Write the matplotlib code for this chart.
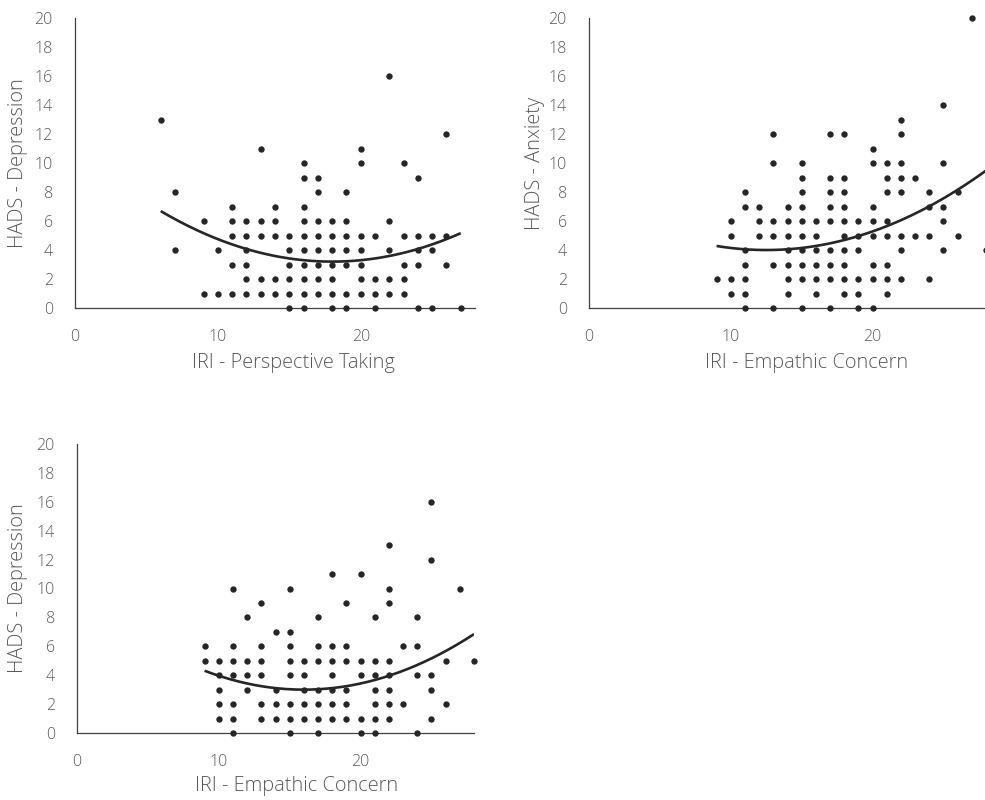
import numpy as np
import matplotlib
matplotlib.use("Agg")
import matplotlib.pyplot as plt

plt.rcParams['font.family'] = ['Open Sans', 'DejaVu Sans']

# IRI Perspective Taking vs HADS Depression: scores grouped by y level
pt_dep_levels = [16, 13, 12, 11, 10, 9, 8, 7, 6, 5, 4, 3, 2, 1, 0]
pt_dep_x = [
    [22],
    [6],
    [26],
    [13, 20],
    [16, 20, 23],
    [16, 17, 24],
    [7, 17, 19],
    [11, 14, 16],
    [9, 11, 12, 13, 14, 16, 17, 18, 19, 22],
    [11, 12, 13, 14, 15, 16, 17, 18, 19, 20, 21, 23, 24, 25, 26],
    [7, 10, 12, 15, 16, 17, 18, 19, 20, 22, 24, 25],
    [11, 12, 15, 16, 17, 18, 19, 20, 23, 24, 26],
    [12, 13, 14, 15, 16, 17, 18, 20, 21, 22, 23],
    [9, 10, 11, 12, 13, 14, 15, 16, 17, 18, 19, 20, 21, 22, 23],
    [15, 16, 18, 19, 21, 24, 25, 27],
]
# quadratic trend (a, b, c) for y = a*x^2 + b*x + c
pt_dep_trend = [0.0242, -0.8712, 11.04]

# IRI Empathic Concern vs HADS Anxiety
ec_anx_levels = [20, 14, 13, 12, 11, 10, 9, 8, 7, 6, 5, 4, 3, 2, 1, 0]
ec_anx_x = [
    [27],
    [25],
    [22],
    [13, 17, 18, 22],
    [20],
    [13, 15, 20, 21, 22, 25],
    [15, 17, 18, 21, 22, 23],
    [11, 15, 17, 18, 21, 22, 24, 26],
    [11, 12, 14, 15, 17, 18, 20, 24, 25],
    [10, 12, 13, 14, 15, 16, 17, 18, 19, 20, 21, 25],
    [10, 12, 13, 14, 15, 16, 18, 19, 20, 21, 22, 23, 24, 26],
    [11, 14, 15, 16, 17, 18, 19, 22, 25, 28],
    [11, 13, 14, 15, 16, 17, 18, 20, 21],
    [9, 10, 11, 14, 15, 16, 17, 18, 19, 20, 21, 22, 24],
    [10, 11, 14, 16, 18, 19, 21],
    [11, 13, 15, 17, 19, 20],
]
ec_anx_trend = [0.0228, -0.570, 7.56]

# IRI Empathic Concern vs HADS Depression
ec_dep_levels = [16, 13, 12, 11, 10, 9, 8, 7, 6, 5, 4, 3, 2, 1, 0]
ec_dep_x = [
    [25],
    [22],
    [25],
    [18, 20],
    [11, 15, 22, 27],
    [13, 19, 22],
    [12, 17, 21, 24],
    [14, 15],
    [9, 11, 13, 15, 17, 18, 19, 23, 24],
    [9, 10, 11, 12, 13, 15, 16, 17, 18, 19, 20, 21, 22, 26, 28],
    [10, 11, 12, 13, 15, 16, 18, 20, 21, 22, 24, 25],
    [10, 12, 14, 16, 17, 18, 19, 21, 22, 25],
    [10, 11, 13, 14, 15, 16, 17, 18, 19, 21, 22, 23, 26],
    [10, 11, 13, 14, 15, 16, 17, 18, 19, 20, 21, 22, 25],
    [11, 15, 17, 20, 21, 24],
]
ec_dep_trend = [0.0267, -0.8544, 9.835]

x_labels = ["IRI - Perspective Taking", "IRI - Empathic Concern", "IRI - Empathic Concern"]
y_labels = ["HADS - Depression", "HADS - Anxiety", "HADS - Depression"]
x_ticks = [0, 10, 20]
y_ticks = list(range(0, 21, 2))

TEXT = "#595959"
INK = "#262626"

W, H = 985, 800
fig = plt.figure(figsize=(W / 100, H / 100), dpi=100)


def frac(left, top, right, bottom):
    return [left / W, 1 - bottom / H, (right - left) / W, (bottom - top) / H]


boxes = [frac(75, 18, 475, 308), frac(589, 18, 986, 308), frac(77, 444, 474, 733)]
# title anchor points in axes coordinates: (x-title x, x-title y, y-title x)
title_pos = [(0.546, -0.188, -0.142), (0.548, -0.188, -0.136), (0.554, -0.184, -0.149)]
panels = [
    (pt_dep_levels, pt_dep_x, pt_dep_trend),
    (ec_anx_levels, ec_anx_x, ec_anx_trend),
    (ec_dep_levels, ec_dep_x, ec_dep_trend),
]

for box, (levels, xs, trend), xl, yl, tp in zip(boxes, panels, x_labels, y_labels, title_pos):
    ax = fig.add_axes(box)
    px = np.array([v for row in xs for v in row], dtype=float)
    py = np.array([lv for lv, row in zip(levels, xs) for _ in row], dtype=float)
    ax.scatter(px, py, s=21, color=INK, zorder=3, linewidths=0, clip_on=False)

    # second-order polynomial trend line over the data range
    xx = np.linspace(px.min(), px.max(), 200)
    ax.plot(xx, np.polyval(trend, xx), color=INK, lw=1.9, zorder=4,
            solid_capstyle='butt')

    ax.set_xlim(0, 28)
    ax.set_ylim(0, 20)
    ax.set_xticks(x_ticks)
    ax.set_yticks(y_ticks)
    for s in ["top", "right"]:
        ax.spines[s].set_visible(False)
    for s in ["left", "bottom"]:
        ax.spines[s].set_color("#404040")
        ax.spines[s].set_linewidth(0.9)
    ax.tick_params(length=0, colors=TEXT, labelsize=11.5)
    ax.tick_params(axis='x', pad=15)
    ax.tick_params(axis='y', pad=16)
    for lab in ax.get_xticklabels() + ax.get_yticklabels():
        lab.set_fontweight('light')
    ax.set_xlabel(xl, fontsize=14.4, color=TEXT, fontweight='light', va='center')
    ax.set_ylabel(yl, fontsize=14.4, color=TEXT, fontweight='light', va='center')
    ax.xaxis.set_label_coords(tp[0], tp[1])
    ax.yaxis.set_label_coords(tp[2], 0.5)
    ax.patch.set_alpha(0)

fig.savefig("out.png", dpi=100)
